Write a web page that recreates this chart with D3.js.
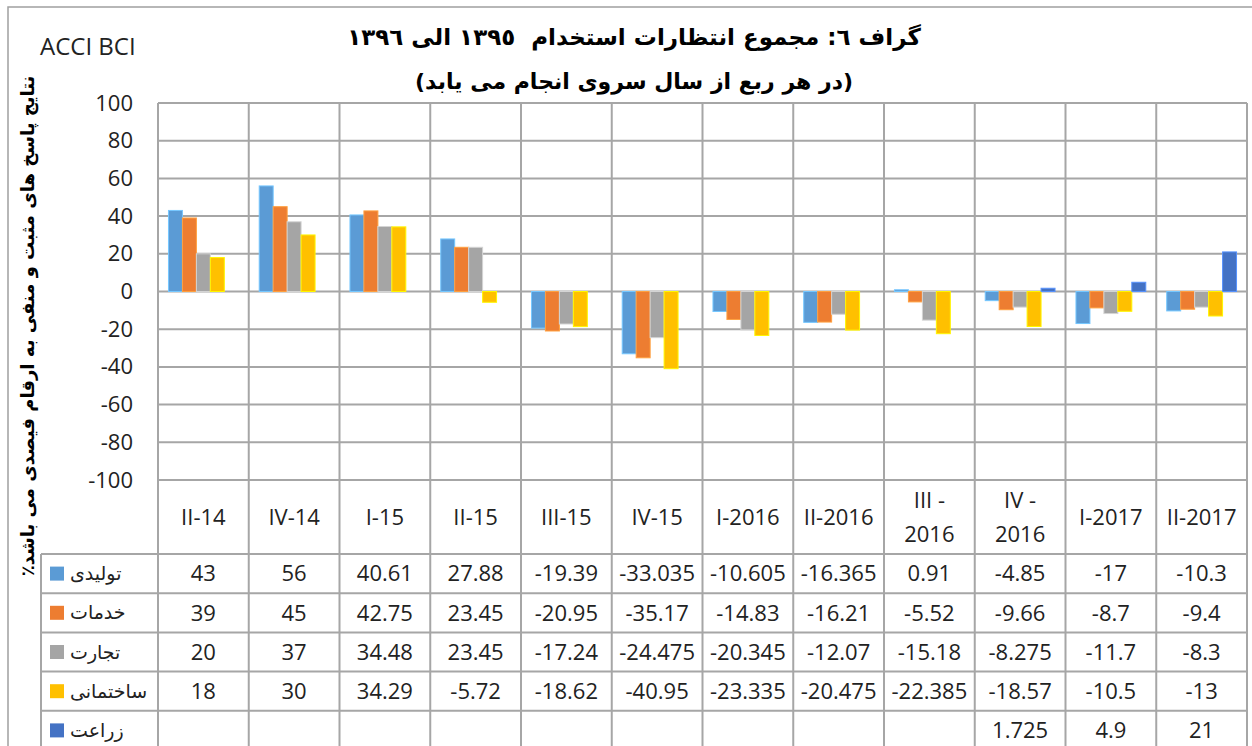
<!DOCTYPE html>
<html>
<head>
<meta charset="utf-8">
<script src="https://cdn.jsdelivr.net/npm/d3@7"></script>
<style>
  body { margin: 0; background: #fff; }
  svg { display: block; }
</style>
</head>
<body>
<svg id="chart" width="1252" height="746"></svg>
<script>
// شاخص ها (ربع ها)
var categories = ["II-14", "IV-14", "I-15", "II-15", "III-15", "IV-15", "I-2016", "II-2016", "III - 2016", "IV - 2016", "I-2017", "II-2017"];
var seriesNames = ["تولیدی", "خدمات", "تجارت", "ساختمانی", "زراعت"];
var tolidi = [43, 56, 40.61, 27.88, -19.39, -33.035, -10.605, -16.365, 0.91, -4.85, -17, -10.3];
var khadamat = [39, 45, 42.75, 23.45, -20.95, -35.17, -14.83, -16.21, -5.52, -9.66, -8.7, -9.4];
var tejarat = [20, 37, 34.48, 23.45, -17.24, -24.475, -20.345, -12.07, -15.18, -8.275, -11.7, -8.3];
var sakhtemani = [18, 30, 34.29, -5.72, -18.62, -40.95, -23.335, -20.475, -22.385, -18.57, -10.5, -13];
var zeraat = [null, null, null, null, null, null, null, null, null, 1.725, 4.9, 21];
var yTicks = [100, 80, 60, 40, 20, 0, -20, -40, -60, -80, -100];
var colors = ["#5B9BD5", "#ED7D31", "#A5A5A5", "#FFC000", "#4472C4"];

var allSeries = [tolidi, khadamat, tejarat, sakhtemani, zeraat];

function drawChart(svg) {
    var latin = "'Open Sans', 'DejaVu Sans', sans-serif";
    var arabic = "'DejaVu Sans', 'Noto Sans', sans-serif";
    var gridColor = "#A6A6A6";

    var plotLeft = 158, plotRight = 1247, plotTop = 103, plotBottom = 480;
    var tableBottom = 750;

    var x = d3.scaleBand().domain(categories).range([plotLeft, plotRight]);
    var x1 = d3.scaleBand().domain(d3.range(seriesNames.length)).range([0, x.bandwidth()]).paddingOuter(0.75);
    var y = d3.scaleLinear().domain([-100, 100]).range([plotBottom, plotTop]);
    var rowY = d3.scaleBand().domain(seriesNames).range([554, tableBottom]);

    // قاب بیرونی
    svg.append("rect")
        .attr("x", 8).attr("y", 7)
        .attr("width", 1300).attr("height", 800)
        .attr("fill", "none")
        .attr("stroke", "#A0A0A0")
        .attr("stroke-width", 1.5);

    // عنوان
    svg.append("text")
        .attr("x", 634).attr("y", 45)
        .attr("direction", "rtl")
        .attr("text-anchor", "middle")
        .style("white-space", "pre")
        .attr("font-family", arabic)
        .attr("font-weight", "bold")
        .attr("font-size", 23)
        .text("گراف ٦: مجموع انتظارات استخدام  ١٣٩٥ الی ١٣٩٦");
    svg.append("text")
        .attr("x", 634).attr("y", 89)
        .attr("direction", "rtl")
        .attr("text-anchor", "middle")
        .attr("font-family", arabic)
        .attr("font-weight", "bold")
        .attr("font-size", 22)
        .text("(در هر ربع از سال سروی انجام می یابد)");

    svg.append("text")
        .attr("x", 40).attr("y", 55)
        .attr("font-family", latin)
        .attr("font-size", 24)
        .attr("fill", "#222")
        .text("ACCI BCI");

    // خطوط افقی
    svg.append("g").attr("id", "grid")
        .selectAll("line")
        .data(yTicks)
        .enter()
        .append("line")
        .attr("x1", plotLeft).attr("x2", plotRight)
        .attr("y1", function (d) { return y(d); })
        .attr("y2", function (d) { return y(d); })
        .attr("stroke", gridColor)
        .attr("stroke-width", 2);

    // برچسب های محور عمودی
    var yAxis = svg.append("g")
        .attr("transform", "translate(" + plotLeft + ",0)")
        .call(d3.axisLeft(y).tickValues(yTicks).tickSize(0).tickPadding(25).tickFormat(function (d) { return String(d); }));
    yAxis.select(".domain").remove();
    yAxis.selectAll("text")
        .attr("font-family", latin)
        .attr("font-size", 22)
        .attr("fill", "#222");

    // میله ها
    var bars = svg.append("g").attr("id", "bars");
    allSeries.forEach(function (values, si) {
        bars.append("g")
            .selectAll("rect")
            .data(values.map(function (v, i) { return {cat: categories[i], v: v}; }).filter(function (d) { return d.v !== null; }))
            .enter()
            .append("rect")
            .attr("x", function (d) { return x(d.cat) + x1(si); })
            .attr("y", function (d) { return y(Math.max(0, d.v)); })
            .attr("width", x1.bandwidth())
            .attr("height", function (d) { return Math.abs(y(d.v) - y(0)); })
            .attr("fill", colors[si])
            .attr("stroke", d3.color(colors[si]).brighter(0.7))
            .attr("stroke-width", 1);
    });

    // جدول داده ها
    var table = svg.append("g").attr("id", "table");
    var bounds = categories.map(function (c) { return x(c); }).concat([plotRight]);
    table.selectAll("line.v")
        .data(bounds)
        .enter()
        .append("line")
        .attr("x1", function (d) { return d; })
        .attr("x2", function (d) { return d; })
        .attr("y1", plotTop).attr("y2", tableBottom)
        .attr("stroke", gridColor)
        .attr("stroke-width", 2);
    table.append("line")
        .attr("x1", 41).attr("x2", 41)
        .attr("y1", 554).attr("y2", tableBottom)
        .attr("stroke", gridColor)
        .attr("stroke-width", 2);
    table.selectAll("line.h")
        .data(seriesNames)
        .enter()
        .append("line")
        .attr("x1", 41).attr("x2", plotRight)
        .attr("y1", function (d) { return rowY(d); })
        .attr("y2", function (d) { return rowY(d); })
        .attr("stroke", gridColor)
        .attr("stroke-width", 2);

    // سرستون ها
    var head = table.append("g");
    categories.forEach(function (c) {
        var lines = c.split(/(?<=-) /);
        var t = head.append("text")
            .attr("text-anchor", "middle")
            .attr("font-family", latin)
            .attr("font-size", 22)
            .attr("fill", "#222");
        lines.forEach(function (l, k) {
            t.append("tspan")
                .attr("x", x(c) + x.bandwidth() / 2)
                .attr("y", 517 + (k - (lines.length - 1) / 2) * 34)
                .attr("dy", "0.35em")
                .text(l);
        });
    });

    // مقادیر و راهنما
    allSeries.forEach(function (values, si) {
        var ry = rowY(seriesNames[si]) + rowY.bandwidth() / 2;
        table.append("g")
            .selectAll("text")
            .data(values.map(function (v, i) { return {cat: categories[i], v: v}; }).filter(function (d) { return d.v !== null; }))
            .enter()
            .append("text")
            .attr("x", function (d) { return x(d.cat) + x.bandwidth() / 2; })
            .attr("y", ry)
            .attr("dy", "0.35em")
            .attr("text-anchor", "middle")
            .attr("font-family", latin)
            .attr("font-size", 22)
            .attr("fill", "#222")
            .text(function (d) { return String(d.v); });

        table.append("rect")
            .attr("x", 50).attr("y", ry - 7)
            .attr("width", 14).attr("height", 14)
            .attr("fill", colors[si]);
        table.append("text")
            .attr("x", 70).attr("y", ry)
            .attr("dy", "0.35em")
            .attr("font-family", arabic)
            .attr("font-size", 19)
            .attr("fill", "#222")
            .text(seriesNames[si]);
    });

    // عنوان محور عمودی
    svg.append("text")
        .attr("transform", "translate(28,326) rotate(-90)")
        .attr("direction", "rtl")
        .attr("text-anchor", "middle")
        .attr("dy", "0.35em")
        .attr("font-family", arabic)
        .attr("font-weight", "bold")
        .attr("font-size", 18)
        .text("نتایج پاسخ های مثبت و منفی به ارقام فیصدی می باشد٪");
}

drawChart(d3.select("#chart"));
</script>
</body>
</html>
